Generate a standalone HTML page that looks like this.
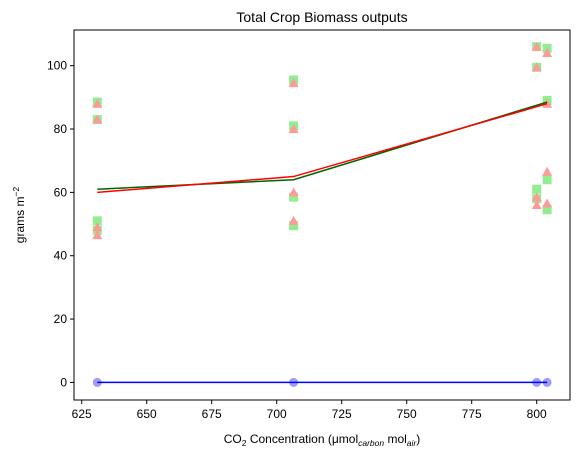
<!DOCTYPE html>
<html><head><meta charset="utf-8"><style>
html,body{margin:0;padding:0;background:#fff;}
svg{display:block;font-family:"Liberation Sans","DejaVu Sans",sans-serif;}
</style></head><body>
<svg id="chart" width="579" height="457" viewBox="0 0 579 457">
<rect x="0" y="0" width="579" height="457" fill="#fff"/>
<text x="322" y="22" font-size="14" text-anchor="middle">Total Crop Biomass outputs</text>
<g id="marks"></g>
<g id="axes"></g>
<rect x="74" y="30" width="496" height="370" fill="none" stroke="#000" stroke-width="1"/>
<text x="322" y="443" font-size="12" text-anchor="middle">CO<tspan font-size="8.5" dy="3">2</tspan><tspan dy="-3"> Concentration (μmol</tspan><tspan font-size="8.5" font-style="italic" dy="3">carbon</tspan><tspan dy="-3"> mol</tspan><tspan font-size="8.5" font-style="italic" dy="3">air</tspan><tspan dy="-3">)</tspan></text>
<text transform="translate(24,215) rotate(-90)" font-size="12" text-anchor="middle">grams m<tspan font-size="8.5" dy="-5">−2</tspan></text>
</svg>
<script>
const xTicks=[625,650,675,700,725,750,775,800];
const yTicks=[0,20,40,60,80,100];
const sqX=[631,631,631,631,706.5,706.5,706.5,706.5,800,800,800,800,804,804,804,804];
const sqY=[88.5,83,51,48,95.5,81,58.5,49.5,106,99.5,61,58,105.5,89,64,54.5];
const triX=[631,631,631,631,706.5,706.5,706.5,706.5,800,800,800,800,804,804,804,804];
const triY=[88,83,49,46.5,94.5,80,60,51,106,99.5,58.5,56,104,88,66.5,56.5];
const circX=[631,706.5,800,804];
const circY=[0,0,0,0];
const lineX=[631,706.5,804];
const greenY=[61,64,88.5];
const redY=[60,65,88];
const blueY=[0,0,0];

const sx=v=>81.7+(v-625)*2.6;
const sy=v=>382.4-v*3.167;
const NS="http://www.w3.org/2000/svg";
const marks=document.getElementById('marks');
const axes=document.getElementById('axes');
function mk(tag,attrs,parent){const e=document.createElementNS(NS,tag);for(const k in attrs)e.setAttribute(k,attrs[k]);parent.appendChild(e);return e;}

sqX.forEach((x,i)=>{
  const e=mk('rect',{x:sx(x)-4.5,y:sy(sqY[i])-4.5,width:9,height:9,fill:'#90ee90'},marks);
  
  
});
triX.forEach((x,i)=>{
  const cx=sx(x),cy=sy(triY[i]);
  const e=mk('polygon',{points:`${cx},${cy-5} ${cx-5},${cy+4} ${cx+5},${cy+4}`,fill:'#ff9999'},marks);
  
  
});
circX.forEach((x,i)=>{
  const e=mk('circle',{cx:sx(x),cy:sy(circY[i]),r:4.5,fill:'#9e9ef2'},marks);
  
  
});
function line(ys,color,name){
  const e=mk('polyline',{points:lineX.map((x,i)=>sx(x)+','+sy(ys[i])).join(' '),fill:'none',stroke:color,'stroke-width':1.5},marks);
  
  
}
line(blueY,'#0000ff','blue-line');
line(greenY,'#006400','green-line');
line(redY,'#ff0000','red-line');

xTicks.forEach(t=>{
  const x=sx(t);
  mk('line',{x1:x,x2:x,y1:400,y2:404,stroke:'#000'},axes);
  const e=mk('text',{x:x,y:418,'font-size':12,'text-anchor':'middle'},axes);
  e.textContent=t;
  
  
});
yTicks.forEach(t=>{
  const y=sy(t);
  mk('line',{x1:70,x2:74,y1:y,y2:y,stroke:'#000'},axes);
  const e=mk('text',{x:67,y:y+4,'font-size':12,'text-anchor':'end'},axes);
  e.textContent=t;
  
  
});
</script>
</body></html>
